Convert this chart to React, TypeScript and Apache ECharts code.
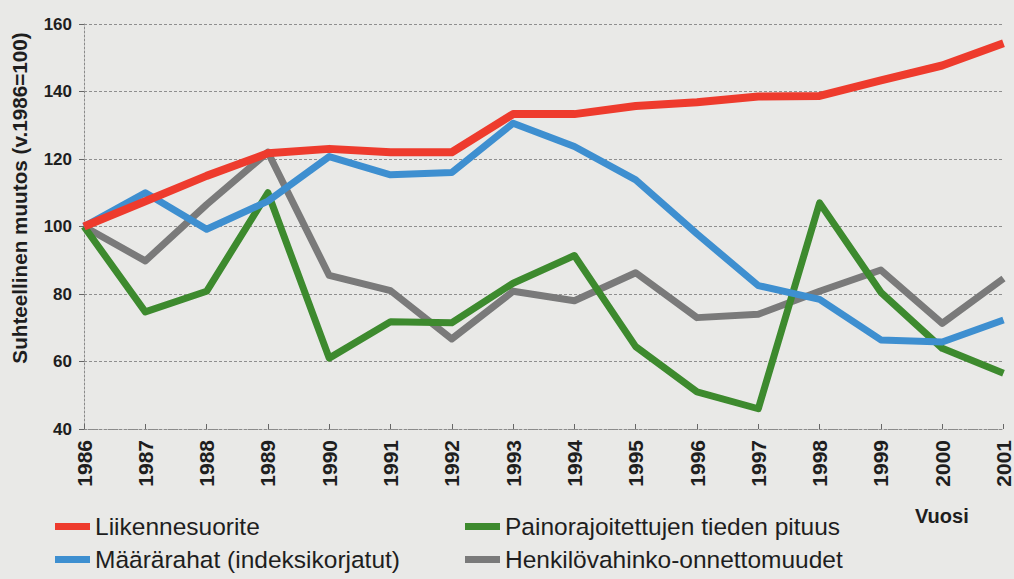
import React, { useEffect, useRef } from "react";
import * as echarts from "echarts";

const years = ["1986","1987","1988","1989","1990","1991","1992","1993","1994","1995","1996","1997","1998","1999","2000","2001"];
const liikennesuorite = [100, 107.5, 115, 121.7, 123, 122, 122, 133.3, 133.3, 135.7, 136.8, 138.5, 138.7, 143.3, 147.7, 154.3];
const maararahat = [100, 110, 99.2, 107.5, 120.7, 115.3, 116, 130.6, 123.7, 113.8, 97.8, 82.5, 78.4, 66.4, 65.8, 72.3];
const painorajoitetut = [100, 74.7, 80.8, 110, 61, 71.8, 71.5, 83.2, 91.4, 64.4, 51, 46, 107, 80.5, 63.9, 56.5];
const henkilovahingot = [100, 89.8, 106.5, 122, 85.5, 81, 66.7, 80.8, 78, 86.3, 73, 74, 80.8, 87.1, 71.3, 84.6];

const seriesNames = [
  "Liikennesuorite",
  "Määrärahat (indeksikorjatut)",
  "Painorajoitettujen tieden pituus",
  "Henkilövahinko-onnettomuudet",
];
const colors = ["#ee3b2d", "#3e8fd0", "#3d8a2e", "#7a7a7a"];
const yTicks = { min: 40, max: 160, interval: 20 };

const FONT = "Arial, 'Liberation Sans', Helvetica, sans-serif";
const TEXT = "#1e1e1e";

export default function App() {
  const ref = useRef<HTMLDivElement>(null);
  useEffect(() => {
    document.body.style.margin = "0";
    const chart = echarts.init(ref.current!, null, { renderer: "svg" });
    const dataSets = [liikennesuorite, maararahat, painorajoitetut, henkilovahingot];
    const legendCommon = {
      orient: "vertical",
      top: 509,
      itemWidth: 35,
      itemHeight: 7,
      itemGap: 8,
      icon: "rect",
      selectedMode: false,
      textStyle: { fontSize: 24.5, color: TEXT, fontFamily: FONT },
    };
    chart.setOption({
      animation: false,
      backgroundColor: "#e9e9e7",
      textStyle: { fontFamily: FONT },
      grid: { left: 84, right: 8, top: 24, bottom: 150 },
      xAxis: {
        type: "category",
        data: years,
        boundaryGap: false,
        axisLine: { show: true, lineStyle: { color: "#8a8a8a", type: [2, 2], width: 1 } },
        axisTick: { show: true, inside: true, length: 5, lineStyle: { color: "#666" } },
        axisLabel: {
          rotate: 90,
          margin: 11,
          fontSize: 21,
          fontWeight: "bold",
          color: TEXT,
          fontFamily: FONT,
        },
        splitLine: { show: false },
      },
      yAxis: {
        type: "value",
        min: yTicks.min,
        max: yTicks.max,
        interval: yTicks.interval,
        axisLine: { show: true, lineStyle: { color: "#8a8a8a", type: [2, 2], width: 1 } },
        axisTick: { show: true, length: 5, lineStyle: { color: "#666" } },
        axisLabel: {
          margin: 12,
          fontSize: 17,
          fontWeight: "bold",
          color: TEXT,
          fontFamily: FONT,
        },
        splitLine: { show: true, lineStyle: { color: "#8f8f8f", type: [3, 2], width: 1 } },
      },
      legend: [
        { ...legendCommon, data: [seriesNames[0], seriesNames[1]], left: 50 },
        { ...legendCommon, data: [seriesNames[2], seriesNames[3]], left: 460 },
      ],
      graphic: [
        {
          type: "text",
          x: 19,
          y: 198,
          rotation: Math.PI / 2,
          style: {
            text: "Suhteellinen muutos (v.1986=100)",
            font: `bold 20.7px ${FONT}`,
            fill: TEXT,
            align: "center",
            verticalAlign: "middle",
          },
        },
        {
          type: "text",
          x: 915,
          y: 506,
          style: {
            text: "Vuosi",
            font: `bold 20px ${FONT}`,
            fill: TEXT,
            align: "left",
            verticalAlign: "top",
          },
        },
      ],
      series: dataSets.map((d, i) => ({
        name: seriesNames[i],
        type: "line",
        data: d,
        showSymbol: false,
        symbol: "none",
        itemStyle: { color: colors[i] },
        lineStyle: { color: colors[i], width: i === 0 ? 8 : 7, join: "round" },
        z: 10 - i,
      })),
    });
    return () => chart.dispose();
  }, []);
  return <div ref={ref} style={{ width: 1014, height: 579 }} />;
}
